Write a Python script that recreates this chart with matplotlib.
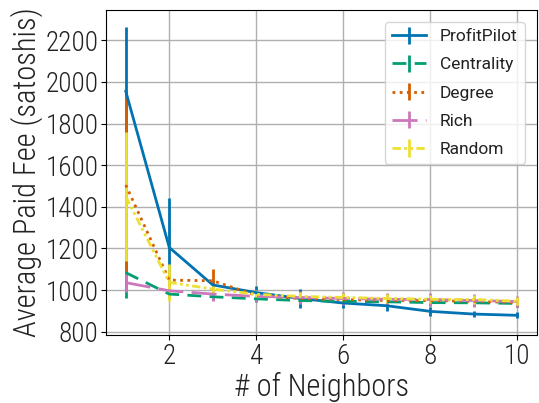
import matplotlib.pyplot as plt
import numpy as np

# average paid fee vs. number of neighbors, per strategy
neighbors = [1, 2, 3, 4, 5, 6, 7, 8, 9, 10]

profitpilot = [1955, 1205, 1025, 988, 960, 938, 925, 898, 885, 879]
profitpilot_err = [310, 238, 20, 30, 45, 25, 25, 20, 15, 15]

centrality = [1084, 981, 968, 958, 950, 946, 944, 940, 939, 936]
centrality_err = [122, 20, 15, 15, 15, 15, 15, 15, 15, 15]

degree = [1505, 1048, 1045, 975, 960, 955, 950, 950, 946, 940]
degree_err = [430, 40, 55, 20, 20, 20, 20, 20, 20, 20]

rich = [1036, 997, 981, 970, 965, 960, 956, 955, 950, 945]
rich_err = [45, 25, 32, 25, 30, 30, 30, 30, 30, 25]

random_sel = [1450, 1037, 1005, 980, 970, 965, 960, 956, 955, 947]
random_err = [308, 87, 25, 20, 20, 20, 20, 20, 20, 20]

fig = plt.figure(figsize=(5.39, 4.03), dpi=100)
ax = fig.add_subplot(111)
fig.subplots_adjust(left=0.197, right=0.996, top=0.975, bottom=0.169)

series = [
    ('ProfitPilot', profitpilot, profitpilot_err, '#0173b2', '-'),
    ('Centrality', centrality, centrality_err, '#029e73', (0, (5, 3))),
    ('Degree', degree, degree_err, '#d55e00', (0, (1, 1.6))),
    ('Rich', rich, rich_err, '#cc78bc', (0, (9, 3))),
    ('Random', random_sel, random_err, '#ece133', (0, (3, 1.2, 1, 1.2, 1, 1.2))),
]
for label, vals, err, color, ls in series:
    ax.errorbar(neighbors, vals, yerr=err, label=label, color=color,
                linestyle=ls, linewidth=2, elinewidth=2)

ax.set_xlim(0.55, 10.45)
ax.set_ylim(785, 2345)
ax.set_xticks([2, 4, 6, 8, 10])
ax.set_yticks(np.arange(800, 2201, 200))
ax.grid(True, color='#b0b0b0', linewidth=1)
ax.set_axisbelow(True)

cond = dict(fontfamily='Roboto Condensed', fontweight=300, color='#222222')
for lab in ax.get_xticklabels() + ax.get_yticklabels():
    lab.set_fontfamily(cond['fontfamily'])
    lab.set_fontweight(cond['fontweight'])
    lab.set_color(cond['color'])
    lab.set_fontsize(19.5)
ax.tick_params(axis='both', pad=2)
ax.set_xlabel('# of Neighbors', fontsize=22, labelpad=2, **cond)
ax.set_ylabel('Average Paid Fee (satoshis)', fontsize=22, labelpad=2, **cond)

leg = ax.legend(loc='upper right', prop={'family': 'Roboto', 'size': 12.5},
                labelspacing=0.75, borderaxespad=0.7)
for t in leg.get_texts():
    t.set_color('#222222')

fig.savefig('out.png', dpi=100)
